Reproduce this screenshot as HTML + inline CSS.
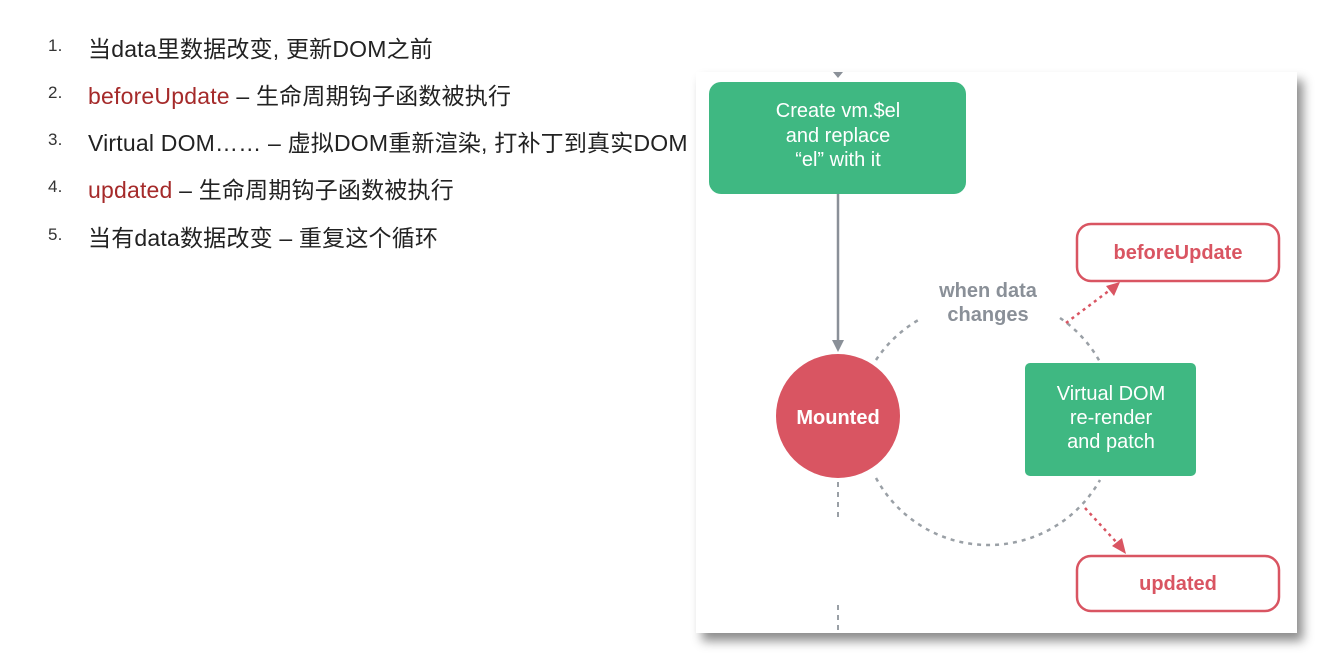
<!DOCTYPE html>
<html><head><meta charset="utf-8"><style>
body{margin:0;width:1325px;height:661px;background:#fff;position:relative;overflow:hidden;font-family:"Liberation Sans","Noto Sans CJK SC",sans-serif}
.li{position:absolute;left:0;font-size:23px;color:#222;white-space:nowrap;letter-spacing:0.2px}
.li .n{position:absolute;left:48px;font-size:17px;color:#333;top:6px}
.li .t{position:absolute;left:88px}
.r{color:#a52a2a}
.panel{position:absolute;left:696px;top:72px;width:601px;height:561px;background:#fff;box-shadow:6px 8px 10px rgba(0,0,0,0.45)}
</style></head><body>
<div class="li" style="top:30px"><span class="n">1.</span><span class="t">当data里数据改变, 更新DOM之前</span></div>
<div class="li" style="top:77px"><span class="n">2.</span><span class="t"><span class="r">beforeUpdate</span> – 生命周期钩子函数被执行</span></div>
<div class="li" style="top:124px"><span class="n">3.</span><span class="t">Virtual DOM…… – 虚拟DOM重新渲染, 打补丁到真实DOM</span></div>
<div class="li" style="top:171px"><span class="n">4.</span><span class="t"><span class="r">updated</span> – 生命周期钩子函数被执行</span></div>
<div class="li" style="top:219px"><span class="n">5.</span><span class="t">当有data数据改变 – 重复这个循环</span></div>
<div class="panel"></div>
<svg style="position:absolute;left:0;top:0" width="1325" height="661" font-family="Liberation Sans, sans-serif">
<polygon points="833,72 843,72 838,78" fill="#8a9098"/>
<rect x="709" y="82" width="257" height="112" rx="12" fill="#3fb882"/>
<text fill="#fff" font-size="20" text-anchor="middle"><tspan x="838" y="117">Create vm.$el</tspan><tspan x="838" y="142">and replace</tspan><tspan x="838" y="166">“el” with it</tspan></text>
<line x1="838" y1="194" x2="838" y2="342" stroke="#8a9098" stroke-width="2.5"/>
<polygon points="832,340 844,340 838,352" fill="#8a9098"/>
<path d="M876,360 A128,128 0 0 1 922,318" fill="none" stroke="#9aa0a6" stroke-width="2.5" stroke-dasharray="4,5"/>
<path d="M1060,318 A128,128 0 0 1 1100,362" fill="none" stroke="#9aa0a6" stroke-width="2.5" stroke-dasharray="4,5"/>
<path d="M876,478 A128,128 0 0 0 1100,480" fill="none" stroke="#9aa0a6" stroke-width="2.5" stroke-dasharray="4,5"/>
<circle cx="838" cy="416" r="62" fill="#d95562"/>
<text x="838" y="424" fill="#fff" font-size="20" font-weight="bold" text-anchor="middle">Mounted</text>
<text fill="#8a9098" font-size="20" font-weight="bold" text-anchor="middle"><tspan x="988" y="297">when data</tspan><tspan x="988" y="321">changes</tspan></text>
<rect x="1025" y="363" width="171" height="113" rx="5" fill="#3fb882"/>
<text fill="#fff" font-size="20" text-anchor="middle"><tspan x="1111" y="400">Virtual DOM</tspan><tspan x="1111" y="424">re-render</tspan><tspan x="1111" y="448">and patch</tspan></text>
<line x1="1066" y1="323" x2="1110" y2="290" stroke="#d95562" stroke-width="2.5" stroke-dasharray="3,4"/>
<polygon points="1120,282 1106,286 1114,296" fill="#d95562"/>
<line x1="1085" y1="508" x2="1118" y2="544" stroke="#d95562" stroke-width="2.5" stroke-dasharray="3,4"/>
<polygon points="1126,554 1112,546 1122,538" fill="#d95562"/>
<rect x="1077" y="224" width="202" height="57" rx="14" fill="#fff" stroke="#d95562" stroke-width="2.5"/>
<text x="1178" y="259" fill="#d95562" font-size="20" font-weight="bold" text-anchor="middle">beforeUpdate</text>
<rect x="1077" y="556" width="202" height="55" rx="14" fill="#fff" stroke="#d95562" stroke-width="2.5"/>
<text x="1178" y="590" fill="#d95562" font-size="20" font-weight="bold" text-anchor="middle">updated</text>
<line x1="838" y1="482" x2="838" y2="518" stroke="#9aa0a6" stroke-width="2" stroke-dasharray="5,5"/>
<line x1="838" y1="605" x2="838" y2="633" stroke="#9aa0a6" stroke-width="2" stroke-dasharray="5,5"/>
</svg>
</body></html>
